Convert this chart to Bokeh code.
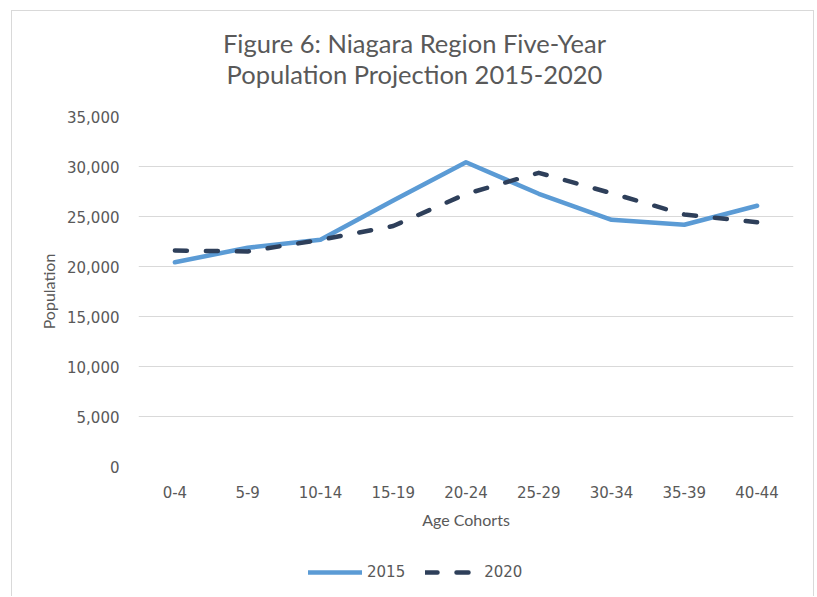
from bokeh.plotting import figure
from bokeh.layouts import column
from bokeh.models import (FactorRange, Range1d, NumeralTickFormatter, SingleIntervalTicker,
                          Legend, LegendItem, ColumnDataSource, Label)
from bokeh.embed import file_html
from bokeh.resources import INLINE

# ---- data ----
cohorts = ["0-4", "5-9", "10-14", "15-19", "20-24", "25-29", "30-34", "35-39", "40-44"]
pop_2015 = [20430, 21870, 22670, 26600, 30430, 27270, 24670, 24170, 26070]
pop_2020 = [21600, 21500, 22670, 24050, 27250, 29370, 27330, 25200, 24430]
series_labels = ["2015", "2020"]
title_lines = ["Figure 6: Niagara Region Five-Year", "Population Projection 2015-2020"]

TXT = "#595959"
GRID = "#d9d9d9"
C2015 = "#5B9BD5"
C2020 = "#2E3F5A"
DASH = "12 19"


def strip(h):
    f = figure(width=801, height=h, output_backend="svg", toolbar_location=None,
               x_range=Range1d(0, 1), y_range=Range1d(0, 1),
               min_border_left=0, min_border_right=0, min_border_top=0,
               min_border_bottom=0)
    f.axis.visible = False
    f.grid.visible = False
    f.outline_line_color = None
    f.background_fill_color = "white"
    f.border_fill_color = "white"
    return f


# title strip
tf = strip(90)
for txt, yy in zip(title_lines, (59, 28)):
    tf.add_layout(Label(x=276, y=yy, x_units="screen", y_units="screen", text=txt,
                        text_align="center", text_baseline="middle",
                        text_font="Lato", text_font_size="25.5px", text_color=TXT))

# main chart
p = figure(width=801, height=444, output_backend="svg", toolbar_location=None,
           x_range=FactorRange(factors=cohorts), y_range=Range1d(0, 35000),
           min_border_left=126, min_border_right=20, min_border_top=15,
           min_border_bottom=79)
p.outline_line_color = None
p.background_fill_color = "white"
p.border_fill_color = "white"

src = ColumnDataSource(dict(x=cohorts, a=pop_2015, b=pop_2020))
p.line("x", "a", source=src, line_color=C2015, line_width=4.5,
       line_cap="round", line_join="round")
p.line("x", "b", source=src, line_color=C2020, line_width=4.5,
       line_cap="round", line_join="round", line_dash=DASH)

p.yaxis.ticker = SingleIntervalTicker(interval=5000)
p.yaxis.formatter = NumeralTickFormatter(format="0,0")
for ax in (p.xaxis[0], p.yaxis[0]):
    ax.axis_line_color = None
    ax.major_tick_line_color = None
    ax.minor_tick_line_color = None
    ax.major_label_text_color = TXT
    ax.major_label_text_font = "DejaVu Sans"
    ax.major_label_text_font_size = "15px"
    ax.axis_label_text_color = TXT
    ax.axis_label_text_font = "Lato"
    ax.axis_label_text_font_size = "16px"
    ax.axis_label_text_font_style = "normal"
p.xaxis.axis_label = "Age Cohorts"
p.yaxis.axis_label = "Population"
p.xaxis.major_label_standoff = 13
p.xaxis.axis_label_standoff = 9
p.yaxis.major_label_standoff = 13
p.yaxis.axis_label_standoff = 6

p.xgrid.grid_line_color = None
p.ygrid.grid_line_color = GRID
p.ygrid.grid_line_width = 1

# legend strip
lf = strip(51)
nan = float("nan")
empty = ColumnDataSource(dict(x=[nan], y=[nan]))
l1 = lf.line("x", "y", source=empty, line_color=C2015, line_width=4.5, line_cap="round")
l2 = lf.line("x", "y", source=empty, line_color=C2020, line_width=4.5, line_cap="round",
             line_dash=DASH)
legend = Legend(items=[LegendItem(label=series_labels[0], renderers=[l1]),
                       LegendItem(label=series_labels[1], renderers=[l2])],
                orientation="horizontal", location=(170, 14),
                glyph_width=54, glyph_height=20, label_standoff=5, spacing=20,
                padding=0, margin=0, border_line_color=None,
                background_fill_alpha=0,
                label_text_font="DejaVu Sans", label_text_font_size="15px",
                label_text_color=TXT)
lf.add_layout(legend, "center")

layout = column(tf, p, lf, spacing=0,
                styles={"margin-left": "11px", "margin-top": "10px",
                        "border-top": "1px solid #d9d9d9",
                        "border-left": "1px solid #d9d9d9",
                        "border-right": "1px solid #d9d9d9"})

open("out.html", "w").write(file_html(layout, INLINE))
